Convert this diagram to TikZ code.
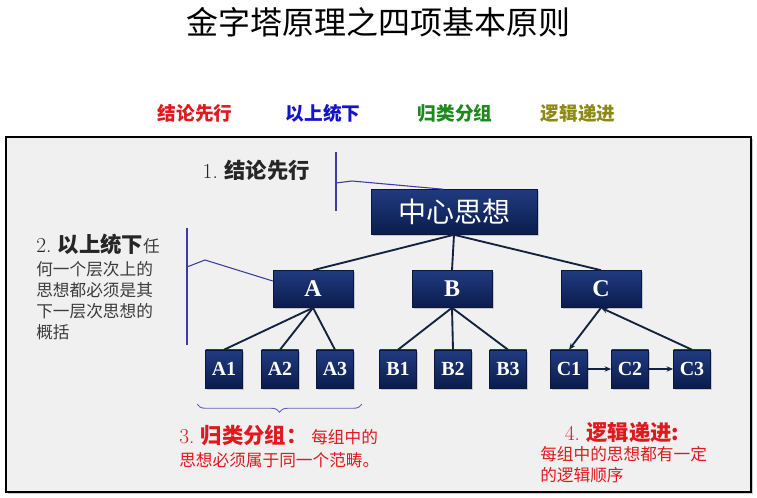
\documentclass[tikz,border=0pt]{standalone}
\usepackage{xcolor}
\usepackage{fontspec}
\newfontfamily\cjk{Noto Sans CJK SC}
\newfontfamily\boxfont{Liberation Serif}
\usepackage{tikz}
\usetikzlibrary{arrows.meta, positioning, shadows, decorations.pathreplacing, calc}

\definecolor{boxtop}{HTML}{1F3B80}
\definecolor{boxbot}{HTML}{0B1C4C}
\definecolor{boxline}{HTML}{081640}
\definecolor{framegray}{HTML}{F0F0F0}
\definecolor{treeline}{HTML}{14223F}
\definecolor{calloutline}{HTML}{3C3CA0}
\definecolor{redtext}{HTML}{E0191E}
\definecolor{bluetext}{HTML}{1414C8}
\definecolor{greentext}{HTML}{1E8A1E}
\definecolor{olivetext}{HTML}{8C8A14}
\definecolor{graytext}{HTML}{3C3C3C}

\begin{document}
\begin{tikzpicture}[x=0.75pt, y=-0.75pt,
    box/.style={draw=boxline, line width=0.4pt, top color=boxtop, bottom color=boxbot, text=white, inner sep=0pt,
      drop shadow={opacity=0.35, shadow xshift=1.2pt, shadow yshift=-1.5pt}},
    topbox/.style={box, minimum width=124.5pt, minimum height=33.75pt, font=\cjk\fontsize{21}{21}\selectfont},
    midbox/.style={box, minimum width=60pt, minimum height=27.75pt, font=\boxfont\bfseries\fontsize{18}{18}\selectfont},
    leafbox/.style={box, minimum width=27.75pt, minimum height=28.5pt, font=\boxfont\bfseries\fontsize{15}{15}\selectfont},
    tree/.style={draw=treeline, line width=1.4pt},
    callout/.style={draw=calloutline, line width=0.8pt},
    tag/.style={font=\cjk\bfseries\fontsize{14}{14}\selectfont}]

  % Page and frame
  \fill[white] (0,0) rectangle (757,498);
  \useasboundingbox (0,0) rectangle (757,498);
  \draw[fill=framegray, line width=0.8pt, drop shadow={opacity=0.4, shadow xshift=1.5pt, shadow yshift=-1.5pt}] (6,137) rectangle (751,492);

  % Title and the four principles
  \node[font=\cjk\fontsize{24}{24}\selectfont] (title) at (378,22) {金字塔原理之四项基本原则};
  \node[tag, text=redtext] (p1) at (195,113) {结论先行};
  \node[tag, text=bluetext] (p2) at (323,113) {以上统下};
  \node[tag, text=greentext] (p3) at (455,113) {归类分组};
  \node[tag, text=olivetext] (p4) at (578,113) {逻辑递进};

  % Pyramid
  \node[topbox] (main) at (454,212) {中心思想};
  \node[midbox] (A) at (313,289) {A};
  \node[midbox] (B) at (452,289) {B};
  \node[midbox] (C) at (601,289) {C};
  \node[leafbox] (A1) at (224,369) {A1};
  \node[leafbox] (A2) at (280,369) {A2};
  \node[leafbox] (A3) at (335,369) {A3};
  \node[leafbox] (B1) at (398,369) {B1};
  \node[leafbox] (B2) at (453,369) {B2};
  \node[leafbox] (B3) at (508,369) {B3};
  \node[leafbox] (C1) at (569,369) {C1};
  \node[leafbox] (C2) at (630,369) {C2};
  \node[leafbox] (C3) at (692,369) {C3};

  \foreach \p in {A,B,C}
    \draw[tree] (main.south) -- (\p.north);
  \foreach \p in {A,B}
    \foreach \i in {1,2,3}
      \draw[tree] (\p.south) -- (\p\i.north);
  \draw[tree, -{Stealth[length=5pt,width=4pt]}] (C.south) -- (C1.north);
  \draw[tree, -{Stealth[length=5pt,width=4pt]}] (C3.north) -- (C.south);
  \draw[tree, -{Stealth[length=5pt,width=4pt]}] (C1.east) -- (C2.west);
  \draw[tree, -{Stealth[length=5pt,width=4pt]}] (C2.east) -- (C3.west);

  % 1. callout
  \node[anchor=west, font=\cjk\bfseries\fontsize{16}{16}\selectfont, text=black!85] (n1) at (198,170) {{\rmfamily\mdseries 1.} 结论先行};
  \coordinate (k1top) at (336,152);
  \coordinate (k1bot) at (336,211);
  \coordinate (k1mid) at (336,183);
  \coordinate (k1knee) at (352,181);
  \draw[callout] (k1top) -- (k1bot);
  \draw[callout] (k1mid) -- (k1knee) -- ([xshift=-8pt]main.north);

  % 2. callout
  \node[anchor=north west, align=left, inner sep=0pt, text=graytext, font=\cjk\fontsize{12.5}{15.75}\selectfont] (n2) at (36,234)
    {{\color{black!85}\bfseries\fontsize{16}{16}\selectfont{\rmfamily\mdseries 2.} 以上统下}任\\[1pt]
     何一个层次上的\\思想都必须是其\\下一层次思想的\\概括};
  \coordinate (k2top) at (187,228);
  \coordinate (k2bot) at (187,345);
  \coordinate (k2mid) at (187,267);
  \coordinate (k2knee) at (205,260);
  \draw[callout] (k2top) -- (k2bot);
  \draw[callout] (k2mid) -- (k2knee) -- ([yshift=6pt]A.west);

  % 3. brace and text
  \draw[draw=calloutline!80, line width=0.7pt, decorate, decoration={brace, mirror, amplitude=6pt}]
    ([xshift=-6pt, yshift=-12pt]A1.south west) -- ([xshift=6pt, yshift=-12pt]A3.south east);
  \node[anchor=north west, align=left, inner sep=0pt, text=redtext, font=\cjk\fontsize{12.5}{17}\selectfont] (n3) at (179,425)
    {{\bfseries\fontsize{16}{16}\selectfont{\rmfamily\mdseries 3.} 归类分组：}~每组中的\\思想必须属于同一个范畴。};

  % 4. text
  \node[font=\cjk\bfseries\fontsize{16}{16}\selectfont, text=redtext] (n4) at (622,432) {{\rmfamily\mdseries 4.} 逻辑递进:};
  \node[anchor=north west, align=left, inner sep=0pt, text=redtext, font=\cjk\fontsize{12.5}{16}\selectfont] (n4body) at (540,446)
    {每组中的思想都有一定\\的逻辑顺序};
\end{tikzpicture}
\end{document}
